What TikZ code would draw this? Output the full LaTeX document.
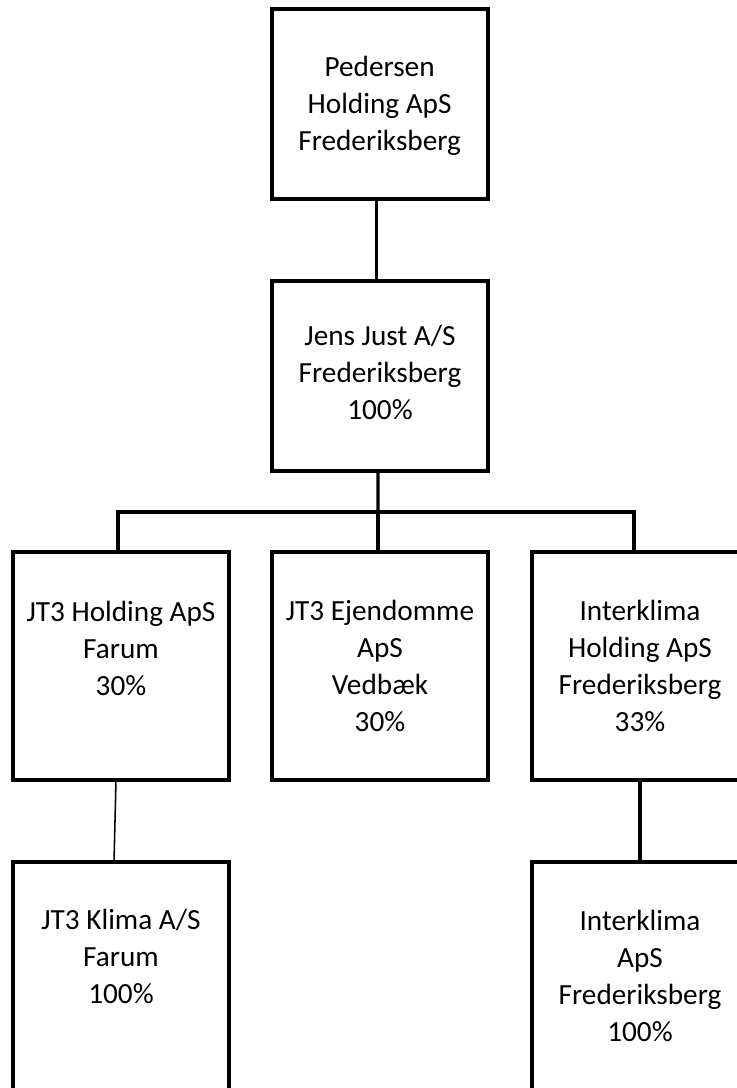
\documentclass[tikz,border=0pt]{standalone}
\usepackage{fontspec}
\setmainfont{Carlito}
\tikzstyle{orgbox} = [draw, line width=2.7pt, outer sep=0pt, inner sep=0pt, minimum width=5.4cm]
\tikzstyle{orgtext} = [align=center, inner sep=0pt, font=\fontsize{20.8}{26.3}\selectfont]
\tikzstyle{link} = [line width=2.4pt]

\begin{document}
\begin{tikzpicture}
      \useasboundingbox (0, 0) rectangle (18.425, -27.2);
      \clip (0, 0) rectangle (18.425, -27.2);

      \node[orgbox, minimum height=4.75cm] (ped) at (9.49, -2.6) {};
      \node[orgtext] (pedtext) at (9.49, -2.65) {Pedersen\\Holding ApS\\Frederiksberg};
      \node[orgbox, minimum height=4.75cm] (jens) at (9.5, -9.4) {};
      \node[orgtext] (jenstext) at (9.5, -9.31) {Jens Just A/S\\Frederiksberg\\100\%};

      \node[orgbox, minimum height=5.7cm] (jt3h) at (3.025, -16.65) {};
      \node[orgtext] (jt3htext) at (3.025, -16.21) {JT3 Holding ApS\\Farum\\30\%};
      \node[orgbox, minimum height=5.7cm] (jt3e) at (9.5, -16.65) {};
      \node[orgtext] (jt3etext) at (9.5, -16.66) {JT3 Ejendomme\\ApS\\Vedbæk\\30\%};
      \node[orgbox, minimum height=5.7cm] (inter) at (16, -16.65) {};
      \node[orgtext] (intertext) at (16, -16.64) {Interklima\\Holding ApS\\Frederiksberg\\33\%};

      \node[orgbox, minimum height=7.5cm, anchor=north] (klima) at (3.025, -21.55) {};
      \node[orgtext] (klimatext) at (3.025, -23.91) {JT3 Klima A/S\\Farum\\100\%};
      \node[orgbox, minimum height=7.5cm, anchor=north] (interaps) at (16, -21.55) {};
      \node[orgtext] (interapstext) at (16, -24.39) {Interklima\\ApS\\Frederiksberg\\100\%};

      \coordinate (split) at (9.45, -12.8);

      \draw[link] ([xshift=-0.08cm]ped.south) -- ([xshift=-0.08cm]ped.south |- jens.north);
      \draw[link] ([xshift=-0.05cm]jens.south) -- (split);
      \draw[link] ([xshift=-0.075cm]jt3h.north) |- (split) -| ([xshift=-0.15cm]inter.north);
      \draw[link] (split) -- (split |- jt3e.north);
      \draw[line width=1.1pt] ([xshift=-0.125cm]jt3h.south) -- ([xshift=-0.175cm]klima.north);
      \draw[link] (inter.south) -- (interaps.north);
    \end{tikzpicture}
\end{document}
